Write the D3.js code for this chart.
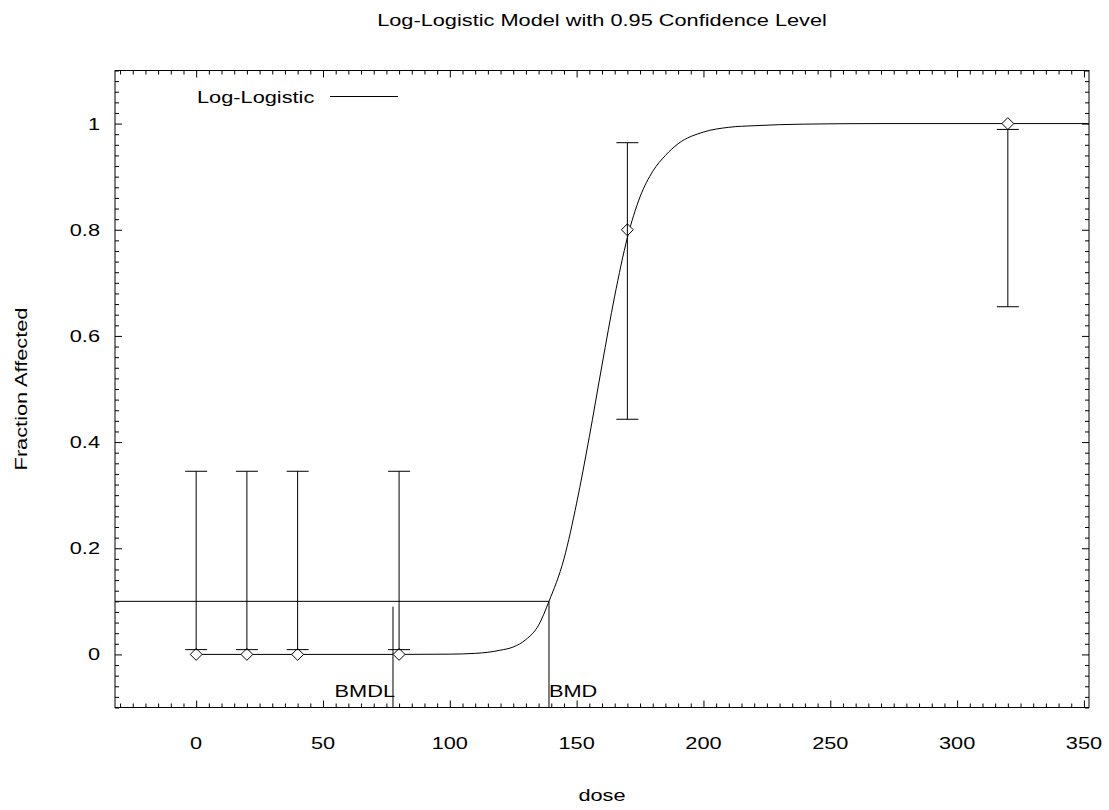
<!DOCTYPE html>
<html>
<head>
<meta charset="utf-8">
<script src="https://cdn.jsdelivr.net/npm/d3@7"></script>
<style>
  body { margin: 0; background: #fff; }
  text { font-family: "Liberation Sans", Arial, sans-serif; font-size: 17px; fill: #000; }
</style>
</head>
<body>
<svg id="chart" width="1109" height="810"></svg>
<script>
// Observed data (dose groups, fraction affected, 95% limits)
var doses = [0, 20, 40, 80, 170, 320];
var fractions = [0, 0, 0, 0, 0.8, 1];
var lowerCI = [0.009, 0.009, 0.009, 0.009, 0.443, 0.655];
var upperCI = [0.345, 0.345, 0.345, 0.345, 0.964, 0.989];

// Fitted log-logistic curve
var curveDose = [0, 80, 100, 110, 115, 120, 125, 130, 135, 139.1, 145, 150, 155, 160, 165, 170, 175, 180, 185, 190, 200, 210, 220, 240, 270, 352];
var curveFraction = [0, 0, 0.0005, 0.002, 0.004, 0.008, 0.014, 0.028, 0.055, 0.1, 0.18, 0.285, 0.41, 0.545, 0.675, 0.785, 0.862, 0.91, 0.94, 0.962, 0.984, 0.993, 0.996, 0.999, 1, 1];

// Benchmark dose markers
var bmr = 0.1;
var bmd = 139.1;
var bmdl = 77.6;
var bmdlTop = 0.09;

var xTicks = [0, 50, 100, 150, 200, 250, 300, 350];
var yTicks = [0, 0.2, 0.4, 0.6, 0.8, 1];
var yTickLabels = ["0", "0.2", "0.4", "0.6", "0.8", "1"];

var title = "Log-Logistic Model with 0.95 Confidence Level";
var xLabel = "dose";
var yLabel = "Fraction Affected";
var legendLabel = "Log-Logistic";

// Layout (plot frame in pixels)
var plotLeft = 115, plotRight = 1089, plotTop = 70.5, plotBottom = 707.5;
var stretch = 1.28;   // text in the reference is wide
var majorLen = 7, minorLen = 4;

var svg = d3.select("#chart");

var x = d3.scaleLinear().domain([-32, 352]).range([plotLeft, plotRight]);
var y = d3.scaleLinear().domain([-0.1, 1.1]).range([plotBottom, plotTop]);

var xMinor = d3.range(-30, 352, 5).filter(function(v) { return v % 50 !== 0; });
var yMinor = d3.range(-10, 111, 2).map(function(v) { return v / 100; })
  .filter(function(v) { return Math.abs(v * 5 - Math.round(v * 5)) > 1e-6; });

// stretched text helper
function label(str, px, py, anchor, rotate) {
  var g = svg.append("g")
    .attr("transform", "translate(" + px + "," + py + ")" + (rotate ? " rotate(-90)" : "") + " scale(" + stretch + ",1)");
  g.append("text").attr("text-anchor", anchor).text(str);
  return g;
}

// Ticks on all four sides, pointing inward
function ticks(axis, transform) {
  var g = svg.append("g")
    .attr("transform", transform)
    .call(axis);
  g.select(".domain").remove();
  g.selectAll("text").remove();
  g.selectAll("line").attr("stroke", "#000");
}

ticks(d3.axisBottom(x).tickValues(xTicks).tickSizeInner(-majorLen).tickSizeOuter(0), "translate(0," + plotBottom + ")");
ticks(d3.axisBottom(x).tickValues(xMinor).tickSizeInner(-minorLen).tickSizeOuter(0), "translate(0," + plotBottom + ")");
ticks(d3.axisTop(x).tickValues(xTicks).tickSizeInner(-majorLen).tickSizeOuter(0), "translate(0," + plotTop + ")");
ticks(d3.axisTop(x).tickValues(xMinor).tickSizeInner(-minorLen).tickSizeOuter(0), "translate(0," + plotTop + ")");
ticks(d3.axisLeft(y).tickValues(yTicks).tickSizeInner(-majorLen).tickSizeOuter(0), "translate(" + plotLeft + ",0)");
ticks(d3.axisLeft(y).tickValues(yMinor).tickSizeInner(-minorLen).tickSizeOuter(0), "translate(" + plotLeft + ",0)");
ticks(d3.axisRight(y).tickValues(yTicks).tickSizeInner(-majorLen).tickSizeOuter(0), "translate(" + plotRight + ",0)");
ticks(d3.axisRight(y).tickValues(yMinor).tickSizeInner(-minorLen).tickSizeOuter(0), "translate(" + plotRight + ",0)");

// Frame
svg.append("rect")
  .attr("x", plotLeft).attr("y", plotTop)
  .attr("width", plotRight - plotLeft).attr("height", plotBottom - plotTop)
  .attr("fill", "none").attr("stroke", "#000");

// Tick labels
xTicks.forEach(function(v) { label(String(v), x(v), 749, "middle"); });
yTicks.forEach(function(v, i) { label(yTickLabels[i], 100, y(v) + 6, "end"); });

// Titles
label(title, (plotLeft + plotRight) / 2, 26, "middle");
label(xLabel, (plotLeft + plotRight) / 2, 801, "middle");
label(yLabel, 27, (plotTop + plotBottom) / 2, "middle", true);

// BMR / BMD / BMDL lines
svg.append("line")
  .attr("x1", plotLeft).attr("x2", x(bmd))
  .attr("y1", y(bmr)).attr("y2", y(bmr))
  .attr("stroke", "#000");
svg.append("line")
  .attr("x1", x(bmd)).attr("x2", x(bmd))
  .attr("y1", y(bmr)).attr("y2", plotBottom)
  .attr("stroke", "#000");
svg.append("line")
  .attr("x1", x(bmdl)).attr("x2", x(bmdl))
  .attr("y1", y(bmdlTop)).attr("y2", plotBottom)
  .attr("stroke", "#000");
label("BMDL", x(bmdl) + 2, 697, "end");
label("BMD", x(bmd), 697, "start");

// Model curve
var line = d3.line()
  .x(function(d) { return x(d[0]); })
  .y(function(d) { return y(d[1]); })
  .curve(d3.curveMonotoneX);

svg.append("path")
  .datum(d3.zip(curveDose, curveFraction))
  .attr("d", line)
  .attr("fill", "none")
  .attr("stroke", "#000");

// Observed points (diamonds)
var diamond = d3.symbol().type(d3.symbolDiamond2).size(90);
svg.selectAll(".point")
  .data(doses)
  .enter().append("path")
  .attr("class", "point")
  .attr("transform", function(d, i) { return "translate(" + x(d) + "," + y(fractions[i]) + ")"; })
  .attr("d", diamond)
  .attr("fill", "#fff")
  .attr("stroke", "#000");

// Error bars
var bars = svg.selectAll(".bar")
  .data(doses)
  .enter().append("g")
  .attr("class", "bar")
  .attr("stroke", "#000");

bars.append("line")
  .attr("x1", function(d) { return x(d); })
  .attr("x2", function(d) { return x(d); })
  .attr("y1", function(d, i) { return y(lowerCI[i]); })
  .attr("y2", function(d, i) { return y(upperCI[i]); });
bars.append("line")
  .attr("x1", function(d) { return x(d) - 11; })
  .attr("x2", function(d) { return x(d) + 11; })
  .attr("y1", function(d, i) { return y(upperCI[i]); })
  .attr("y2", function(d, i) { return y(upperCI[i]); });
bars.append("line")
  .attr("x1", function(d) { return x(d) - 11; })
  .attr("x2", function(d) { return x(d) + 11; })
  .attr("y1", function(d, i) { return y(lowerCI[i]); })
  .attr("y2", function(d, i) { return y(lowerCI[i]); });

// Legend
label(legendLabel, 197, 103, "start");
svg.append("line")
  .attr("x1", 330).attr("x2", 398)
  .attr("y1", 96.5).attr("y2", 96.5)
  .attr("stroke", "#000");
</script>
</body>
</html>
